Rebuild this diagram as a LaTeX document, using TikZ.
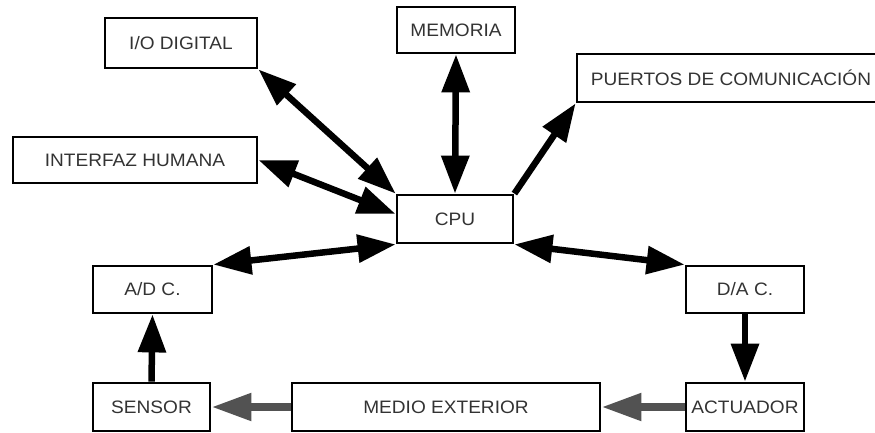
\documentclass[tikz,border=0pt]{standalone}
\usepackage{fontspec}
\newfontfamily\labfont{Liberation Sans}[FakeStretch=1.06]
\usetikzlibrary{arrows.meta}
\tikzset{
  box/.style={draw=black, line width=2.8pt, fill=white, inner sep=0pt,
    font=\labfont\fontsize{18}{21}\selectfont, text=black!80},
  blk/.style={draw=black, line width=6.5pt},
  gry/.style={draw=black!68, line width=8pt},
  tipb/.style={-{Triangle[length=38pt,width=27pt]}},
  tipbb/.style={{Triangle[length=38pt,width=27pt]}-{Triangle[length=38pt,width=27pt]}},
  tipg/.style={-{Triangle[length=40pt,width=26pt]}, color=black!68},
}
\begin{document}
\begin{tikzpicture}[x=1pt,y=-1pt]
\useasboundingbox[fill=white] (0,0) rectangle (875,433);
\node[box, minimum width=152pt, minimum height=50pt] (io) at (181,43) {I/O DIGITAL};
\node[box, minimum width=118pt, minimum height=46pt] (mem) at (456,30) {MEMORIA};
\node[box, minimum width=308pt, minimum height=48pt] (pc) at (731,78) {PUERTOS DE COMUNICACIÓN};
\node[box, minimum width=244pt, minimum height=46pt] (ih) at (135,160) {INTERFAZ HUMANA};
\node[box, minimum width=116pt, minimum height=48pt] (cpu) at (455,219) {CPU};
\node[box, minimum width=119pt, minimum height=47pt] (ad) at (152.5,289.5) {A/D C.};
\node[box, minimum width=118pt, minimum height=47pt] (da) at (745,289.5) {D/A C.};
\node[box, minimum width=118pt, minimum height=48pt] (act) at (745,407) {ACTUADOR};
\node[box, minimum width=117pt, minimum height=48pt] (sen) at (151.5,407) {SENSOR};
\node[box, minimum width=308pt, minimum height=48pt] (med) at (446,407) {MEDIO EXTERIOR};
% connectors
\draw[blk, tipbb] (io.south east) -- (cpu.north west);
\draw[blk, tipbb] (ih.east) -- ([yshift=5pt]cpu.west);
\draw[blk, tipbb] (mem.south) -- (cpu.north);
\draw[blk, tipb] (cpu.north east) -- (pc.south west);
\draw[blk, tipbb] (cpu.south west) -- (ad.north east);
\draw[blk, tipbb] (cpu.south east) -- (da.north west);
\draw[blk, tipb] (da.south) -- (act.north);
\draw[blk, tipb] (sen.north) -- (ad.south);
\draw[gry, tipg] (med.west) -- (sen.east);
\draw[gry, tipg] (act.west) -- (med.east);
\end{tikzpicture}
\end{document}
